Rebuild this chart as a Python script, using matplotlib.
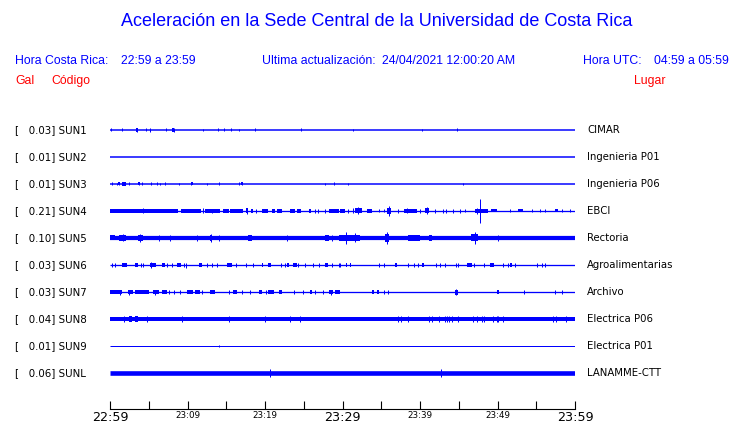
import matplotlib
matplotlib.use("Agg")
import matplotlib.pyplot as plt

# Station codes, peak values (Gal) and site names, top to bottom
codes = ["SUN1", "SUN2", "SUN3", "SUN4", "SUN5", "SUN6", "SUN7", "SUN8", "SUN9", "SUNL"]
peaks = [0.03, 0.01, 0.01, 0.21, 0.10, 0.03, 0.03, 0.04, 0.01, 0.06]
places = ["CIMAR", "Ingenieria P01", "Ingenieria P06", "EBCI", "Rectoria",
          "Agroalimentarias", "Archivo", "Electrica P06", "Electrica P01", "LANAMME-CTT"]

# Time axis (minutes after 22:59)
minutes = (0, 60)
tick_minutes = list(range(0, 61, 5))
tick_labels = ["22:59", "", "23:09", "", "23:19", "", "23:29", "", "23:39", "", "23:49", "", "23:59"]
big_labels = ["22:59", "23:29", "23:59"]

# Background trace thickness (px)
base_px = [1.5, 1.5, 1.5, 1.3, 4.2, 1.3, 1.3, 4.0, 1.0, 4.6]

# Active segments (start min, end min, half height px) and single spikes (min, half height px)
sun1_blocks = [(3.3, 3.6, 1.8), (8.05, 8.3, 1.6)]
sun1_spikes = [(0.13, 1.5), (1.6, 1.5), (3.44, 2), (4.7, 1.5), (5.16, 2), (7.27, 1.5), (8.2, 2),
               (12.0, 1.2), (13.9, 1.5), (14.75, 1.5), (15.65, 1.5), (16.6, 1.2), (18.75, 1.5),
               (24.7, 1.5), (31.4, 1.2), (40.3, 1.2), (44.8, 1.5)]

sun2_blocks = []
sun2_spikes = []

sun3_blocks = [(1.0, 1.3, 1.5), (1.6, 2.05, 1.8), (3.6, 3.85, 1.5), (10.4, 10.65, 1.5), (16.9, 17.15, 1.5)]
sun3_spikes = [(0.3, 1.5), (0.86, 1), (1.16, 1.5), (2.5, 1.5), (3.7, 1.5), (4.17, 1.5), (5.3, 1.5),
               (6.0, 1.5), (6.4, 1.2), (7.05, 1.5), (8.9, 1), (10.5, 1.5), (12.5, 1.2), (14.1, 1.5),
               (16.7, 1.5), (17.0, 1.5), (27.7, 1), (28.9, 1.5), (30.75, 1.2), (45.5, 1)]

sun4_blocks = [(0, 8.8, 2.0), (9.16, 11.8, 2.0), (12.26, 14.2, 2.0), (14.6, 15.3, 1.8), (15.48, 17.2, 2.0),
               (17.5, 17.8, 2.5), (18.15, 18.5, 1.8), (19.6, 20.4, 1.8), (20.86, 21.3, 1.8), (21.6, 22.2, 1.8),
               (23.2, 23.9, 1.8), (24.1, 24.7, 1.8), (25.7, 26.0, 1.8), (28.2, 29.5, 1.8), (29.7, 30.3, 1.8),
               (31.6, 32.5, 2.5), (33.1, 33.8, 2.0), (35.7, 36.3, 3.0), (37.9, 39.6, 2.0), (40.6, 41.1, 2.5),
               (47.1, 48.8, 2.0), (49.2, 49.9, 1.5), (52.7, 53.3, 1.5), (57.4, 57.8, 1.5)]
sun4_spikes = [(4.2, 2.5), (12.0, 2.5), (13.1, 2.2), (17.63, 3), (18.9, 1.8), (26.45, 1.8), (26.9, 1.8),
               (27.7, 1.8), (30.75, 2), (31.3, 2.5), (32.0, 3.5), (34.75, 1.5), (35.3, 1.5), (36.0, 5),
               (37.2, 1.8), (38.3, 2.5), (40.0, 1.8), (40.9, 3.5), (41.9, 1.8), (43.0, 1.8), (43.4, 1.8),
               (44.3, 1.8), (45.2, 1.8), (45.8, 1.5), (47.4, 3), (47.7, 12), (51.6, 1.5), (54.4, 1.5),
               (55.5, 1.5), (56.1, 1.5), (58.3, 1.5), (59.4, 1.5)]

sun5_blocks = [(0, 0.65, 2.5), (1.1, 2.1, 2.8), (3.65, 4.2, 3), (12.9, 13.2, 3), (17.8, 18.3, 2.8),
               (27.7, 28.2, 2.8), (29.5, 32.2, 3), (35.5, 36.0, 4), (38.5, 40.0, 2.8), (41.1, 41.5, 2.8),
               (46.6, 47.5, 3.5)]
sun5_spikes = [(1.7, 3.5), (3.9, 3.8), (6.3, 2.8), (7.8, 2.8), (11.2, 2.8), (13.05, 4), (14.1, 2.8),
               (22.8, 2.8), (28.6, 2.8), (30.5, 6), (31.6, 4.5), (35.8, 6), (47.1, 6), (50.1, 2.8)]

sun6_blocks = [(1.6, 2.15, 1.8), (3.2, 3.65, 1.8), (5.16, 5.9, 1.8), (6.67, 7.1, 1.8), (8.6, 9.2, 1.8),
               (11.5, 11.9, 1.8), (15.1, 15.7, 1.8), (19.6, 19.8, 1.8), (20.4, 20.8, 1.8), (22.9, 23.1, 1.8),
               (23.6, 24.1, 1.8), (27.7, 28.1, 1.8), (30.4, 30.6, 1.8), (30.95, 31.15, 1.8), (36.8, 37.0, 1.8),
               (40.3, 40.5, 1.8), (46.1, 46.7, 2.2), (49.0, 49.6, 2.2), (51.6, 51.9, 1.8)]
sun6_spikes = [(0.22, 2), (0.65, 2), (4.0, 2), (4.3, 2), (5.25, 2.8), (7.4, 2), (8.0, 2), (9.5, 2),
               (9.76, 2.5), (12.5, 2), (13.2, 2), (13.8, 2), (16.2, 2), (17.6, 2), (18.5, 2), (22.1, 2),
               (22.6, 2), (24.3, 2), (25.1, 2), (26.2, 2), (27.0, 2), (28.7, 2), (29.5, 2), (29.7, 2),
               (34.75, 2), (35.3, 2), (38.4, 2), (39.2, 2), (39.8, 2), (42.1, 2), (42.6, 2), (43.2, 2),
               (44.7, 2), (44.9, 2), (47.0, 2), (48.3, 2), (50.75, 2), (51.3, 2), (52.2, 2), (55.1, 2),
               (55.7, 2), (56.1, 2)]

sun7_blocks = [(0, 1.5, 1.8), (2.28, 3.0, 1.8), (3.2, 5.0, 1.8), (5.6, 6.3, 1.8), (6.67, 7.3, 1.8),
               (9.9, 10.75, 1.8), (11.0, 11.6, 1.8), (12.9, 13.5, 1.8), (15.9, 16.35, 1.8), (19.2, 19.6, 1.8),
               (20.4, 21.1, 1.8), (21.8, 22.2, 1.8), (25.8, 26.0, 1.8), (28.3, 28.8, 1.8), (29.0, 29.7, 1.8),
               (33.8, 34.0, 1.8), (34.5, 34.7, 1.8), (44.5, 44.9, 2.5), (49.9, 50.2, 1.8)]
sun7_spikes = [(1.3, 2.5), (2.4, 2.5), (5.8, 2.5), (7.6, 2), (8.3, 2), (9.0, 2), (11.9, 2), (15.3, 2),
               (17.0, 2), (18.1, 2), (20.1, 2), (23.7, 2), (24.9, 2), (26.45, 2), (27.5, 2), (28.55, 2.5),
               (35.3, 2), (35.9, 2), (44.7, 3.2), (53.4, 2), (57.4, 2), (58.3, 2)]

sun8_blocks = [(2.4, 2.9, 2.8), (3.2, 3.65, 2.8)]
sun8_spikes = [(1.85, 3), (4.8, 3), (9.25, 3), (15.3, 2.8), (20.0, 2.8), (23.2, 3), (24.5, 3),
               (37.1, 3), (37.6, 3), (38.4, 2.8), (41.1, 3), (41.5, 3), (42.4, 2.8), (43.2, 3),
               (43.5, 3), (43.8, 3), (44.1, 3), (44.9, 3), (46.9, 3), (47.3, 3), (48.0, 2.8),
               (48.2, 2.8), (49.4, 3), (49.9, 3), (50.1, 3), (50.75, 2.8), (57.1, 2.8), (57.6, 2.8),
               (58.9, 2.8)]

sun9_blocks = []
sun9_spikes = [(14.06, 1.3)]

sunl_blocks = []
sunl_spikes = [(20.6, 3.8), (42.7, 3.8)]

blocks = [sun1_blocks, sun2_blocks, sun3_blocks, sun4_blocks, sun5_blocks,
          sun6_blocks, sun7_blocks, sun8_blocks, sun9_blocks, sunl_blocks]
spikes = [sun1_spikes, sun2_spikes, sun3_spikes, sun4_spikes, sun5_spikes,
          sun6_spikes, sun7_spikes, sun8_spikes, sun9_spikes, sunl_spikes]

BLUE = "#0000ff"
PX = 1 / 27.0          # one pixel in trace units (traces are 27 px apart)
PT = 0.72              # one pixel in points at 100 dpi

fig = plt.figure(figsize=(7.4, 4.23), dpi=100)
fig.patch.set_facecolor("white")

# Header texts
head = dict(family="Liberation Sans", color=BLUE, va="center", fontsize=8.8)
fig.text(377 / 740, 1 - 22 / 423, "Aceleración en la Sede Central de la Universidad de Costa Rica",
         ha="center", va="center", fontsize=13.0, family="Liberation Sans", color=BLUE)
fig.text(15 / 740, 1 - 61 / 423, "Hora Costa Rica:", **head)
fig.text(121 / 740, 1 - 61 / 423, "22:59 a 23:59", **head)
fig.text(262 / 740, 1 - 61 / 423, "Ultima actualización:", **head)
fig.text(382 / 740, 1 - 61 / 423, "24/04/2021 12:00:20 AM", **head)
fig.text(583 / 740, 1 - 61 / 423, "Hora UTC:", **head)
fig.text(654 / 740, 1 - 61 / 423, "04:59 a 05:59", **head)
red = dict(family="Liberation Sans", color="red", fontsize=8.8, va="center")
fig.text(15 / 740, 1 - 81 / 423, "Gal", **red)
fig.text(51 / 740, 1 - 81 / 423, "Código", **red)
fig.text(634 / 740, 1 - 81 / 423, "Lugar", **red)

# Trace area: x from 110 to 575 px, first trace at 130 px, axis line at 409 px
ax = fig.add_axes([110 / 740, 1 - 409 / 423, 465 / 740, (409 - 116.5) / 423])
ax.set_xlim(*minutes)
ax.set_ylim((409 - 130) / 27, -0.5)

for i, code in enumerate(codes):
    ax.plot(minutes, [i, i], color=BLUE, lw=base_px[i] * PT, solid_capstyle="butt")
    for start, end, half in blocks[i]:
        ax.bar(start, 2 * half * PX, width=end - start, bottom=i - half * PX,
               align="edge", color=BLUE, linewidth=0)
    if spikes[i]:
        ts = [s[0] for s in spikes[i]]
        hs = [s[1] * PX for s in spikes[i]]
        ax.vlines(ts, [i - h for h in hs], [i + h for h in hs], color=BLUE, lw=1.0 * PT)
    ax.text(-95 / 7.75, i, f"[   {peaks[i]:.2f}] {code}", ha="left", va="center",
            fontsize=7.4, family="DejaVu Sans", color="black")
    ax.text(60 + 12 / 7.75, i, places[i], ha="left", va="center",
            fontsize=7.3, family="DejaVu Sans", color="black")

for side in ["top", "left", "right"]:
    ax.spines[side].set_visible(False)
ax.spines["bottom"].set_linewidth(0.8)
ax.set_yticks([])
ax.set_xticks(tick_minutes, tick_labels)
ax.tick_params(axis="x", direction="in", length=8 * PT, width=0.8, pad=1.5)
for lab in ax.get_xticklabels():
    lab.set_fontsize(9.2 if lab.get_text() in big_labels else 6.3)

fig.savefig("out.png", dpi=100)
